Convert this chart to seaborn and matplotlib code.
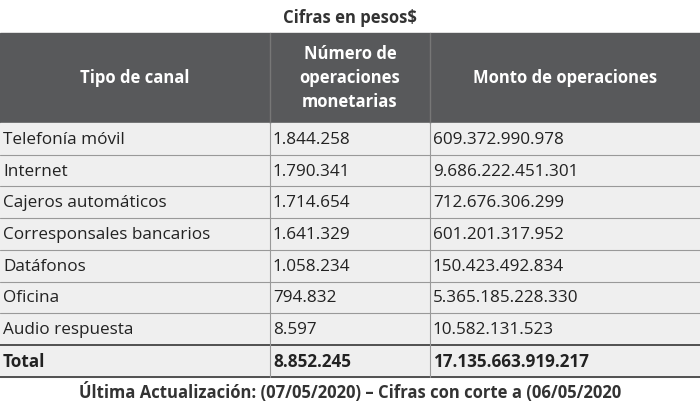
import matplotlib
matplotlib.use("Agg")
import matplotlib.pyplot as plt
import seaborn as sns
from matplotlib.patches import Rectangle

sns.set_theme(style="white")

canales = ["Telefonía móvil", "Internet", "Cajeros automáticos", "Corresponsales bancarios",
           "Datáfonos", "Oficina", "Audio respuesta", "Total"]
operaciones = ["1.844.258", "1.790.341", "1.714.654", "1.641.329", "1.058.234", "794.832", "8.597", "8.852.245"]
montos = ["609.372.990.978", "9.686.222.451.301", "712.676.306.299", "601.201.317.952",
          "150.423.492.834", "5.365.185.228.330", "10.582.131.523", "17.135.663.919.217"]
headers = ["Tipo de canal", "Número de\noperaciones\nmonetarias", "Monto de operaciones"]

fig = plt.figure(figsize=(7, 4.19), dpi=100)
ax = fig.add_axes([0, 0, 1, 1])
ax.set_xlim(0, 700)
ax.set_ylim(419, 0)
ax.axis("off")
fam = "Open Sans"

cols = [0, 270, 430, 700]
ax.add_patch(Rectangle((0, 33), 700, 90, color="#58595b"))
for i, h in enumerate(headers):
    ax.text((cols[i] + cols[i + 1]) / 2, 78, h, ha="center", va="center", color="white",
            fontsize=12, fontweight="bold", family=fam, linespacing=1.45)
for x in cols[1:3]:
    ax.plot([x, x], [33, 123], color="#777", lw=1)

top = 123
h = 31.7
ax.add_patch(Rectangle((0, top), 700, h * 8, color="#efefef"))
for r in range(8):
    y0 = top + r * h
    bold = r == 7
    for i, val in enumerate([canales[r], operaciones[r], montos[r]]):
        ax.text(cols[i] + 3, y0 + h / 2 + 1, val, ha="left", va="center", fontsize=12.3,
                family=fam, color="#222", fontweight="bold" if bold else "normal")
    ax.plot([0, 700], [y0 + h, y0 + h], color="#444" if r >= 6 else "#999", lw=1.3 if r >= 6 else 0.8)
for x in cols[1:3]:
    ax.plot([x, x], [top, top + 8 * h], color="#999", lw=0.8)

ax.text(350, 18, "Cifras en pesos$", ha="center", va="center", fontsize=12,
        fontweight="bold", family=fam, color="#333")
ax.text(350, 392, "Última Actualización: (07/05/2020) – Cifras con corte a (06/05/2020",
        ha="center", va="center", fontsize=12, fontweight="bold", family=fam, color="#333")

fig.savefig("out.png", dpi=100)
